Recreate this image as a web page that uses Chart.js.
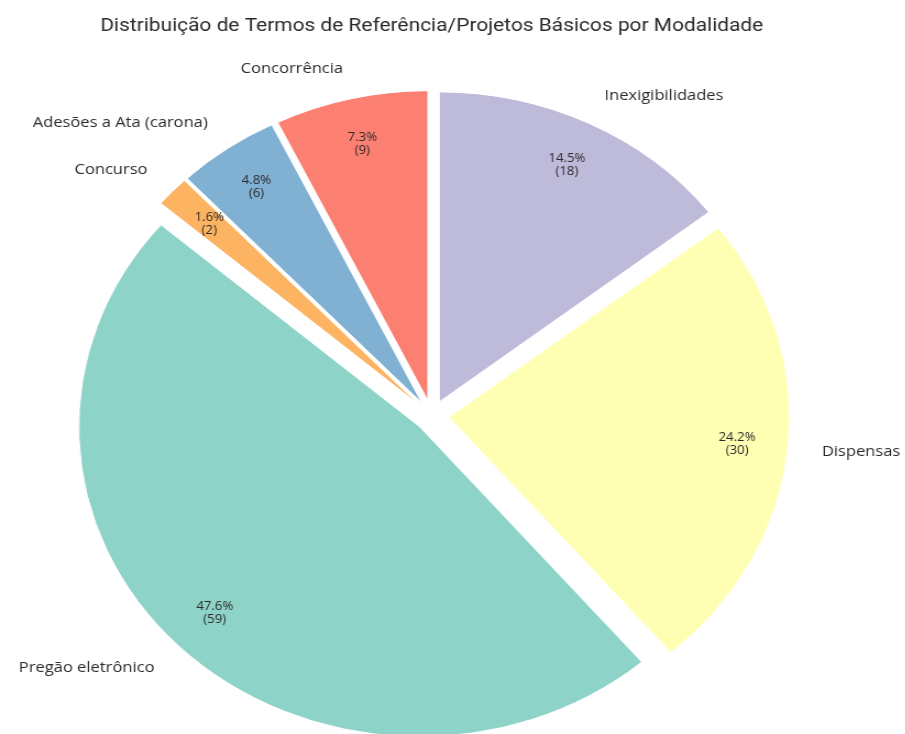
<!DOCTYPE html>
<html><head><meta charset="utf-8">
<script src="https://cdn.jsdelivr.net/npm/chart.js@4"></script>
<style>
html,body{margin:0;padding:0;background:#fff;overflow:hidden}
#wrap{position:absolute;left:0;top:0;width:823px;height:734px;transform:scaleX(1.1);transform-origin:0 0}
</style></head><body>
<div id="wrap"><canvas id="c"></canvas></div>
<script>
const categories = ['Inexigibilidades', 'Dispensas', 'Pregão eletrônico', 'Concurso', 'Adesões a Ata (carona)', 'Concorrência'];
const counts = [18, 30, 59, 2, 6, 9];
const colors = ['#bebada', '#ffffb3', '#8dd3c7', '#fdb462', '#80b1d3', '#fb8072'];
const titleText = 'Distribuição de Termos de Referência/Projetos Básicos por Modalidade';

const EXPLODE = 0.05, PCT_DIST = 0.85, LABEL_DIST = 1.1;

const explodePlugin = {
  id: 'explodeLabels',
  beforeDatasetsDraw(chart) {
    chart.getDatasetMeta(0).data.forEach(arc => {
      if (arc._exploded) return;
      const base = Object.getPrototypeOf(arc).draw;
      arc.draw = function (ctx, area) {
        const mid = (this.startAngle + this.endAngle) / 2;
        const d = EXPLODE * this.outerRadius;
        ctx.save();
        ctx.translate(Math.cos(mid) * d, Math.sin(mid) * d);
        base.call(this, ctx, area);
        ctx.restore();
      };
      arc._exploded = true;
    });
  },
  afterDatasetsDraw(chart) {
    const ctx = chart.ctx;
    const meta = chart.getDatasetMeta(0);
    const total = counts.reduce((a, b) => a + b, 0);
    meta.data.forEach((arc, i) => {
      const {x, y, startAngle, endAngle, outerRadius: r} = arc.getProps(['x', 'y', 'startAngle', 'endAngle', 'outerRadius'], true);
      const mid = (startAngle + endAngle) / 2, c = Math.cos(mid), s = Math.sin(mid);
      const cx = x + c * EXPLODE * r, cy = y + s * EXPLODE * r;
      ctx.save();
      ctx.fillStyle = '#2b2b2b';
      ctx.font = '12px "Open Sans"';
      ctx.textAlign = 'center';
      ctx.textBaseline = 'middle';
      const px = cx + c * PCT_DIST * r, py = cy + s * PCT_DIST * r;
      const pct = (counts[i] / total * 100).toFixed(1) + '%';
      ctx.fillText(pct, px, py - 6.5);
      ctx.fillText('(' + counts[i] + ')', px, py + 6.5);
      ctx.font = '15px "Open Sans"';
      ctx.textAlign = c > 0 ? 'left' : 'right';
      ctx.fillText(categories[i], cx + c * LABEL_DIST * r, cy + s * LABEL_DIST * r);
      ctx.restore();
    });
  }
};

new Chart(document.getElementById('c'), {
  type: 'pie',
  data: {
    labels: categories,
    datasets: [{
      data: counts,
      backgroundColor: colors,
      borderColor: '#ffffff',
      borderWidth: 1,
      radius: 310,
      clip: false
    }]
  },
  options: {
    responsive: true,
    maintainAspectRatio: false,
    animation: false,
    events: [],
    layout: {padding: {left: 0, right: 38, top: 0, bottom: 0}},
    plugins: {
      legend: {display: false},
      tooltip: {enabled: false},
      title: {
        display: true,
        text: titleText,
        color: '#2b2b2b',
        font: {family: 'Roboto', size: 19, weight: 'normal', lineHeight: 1.2},
        padding: {top: 14.6, bottom: 60.2}
      }
    }
  },
  plugins: [explodePlugin]
});
</script>
</body></html>
